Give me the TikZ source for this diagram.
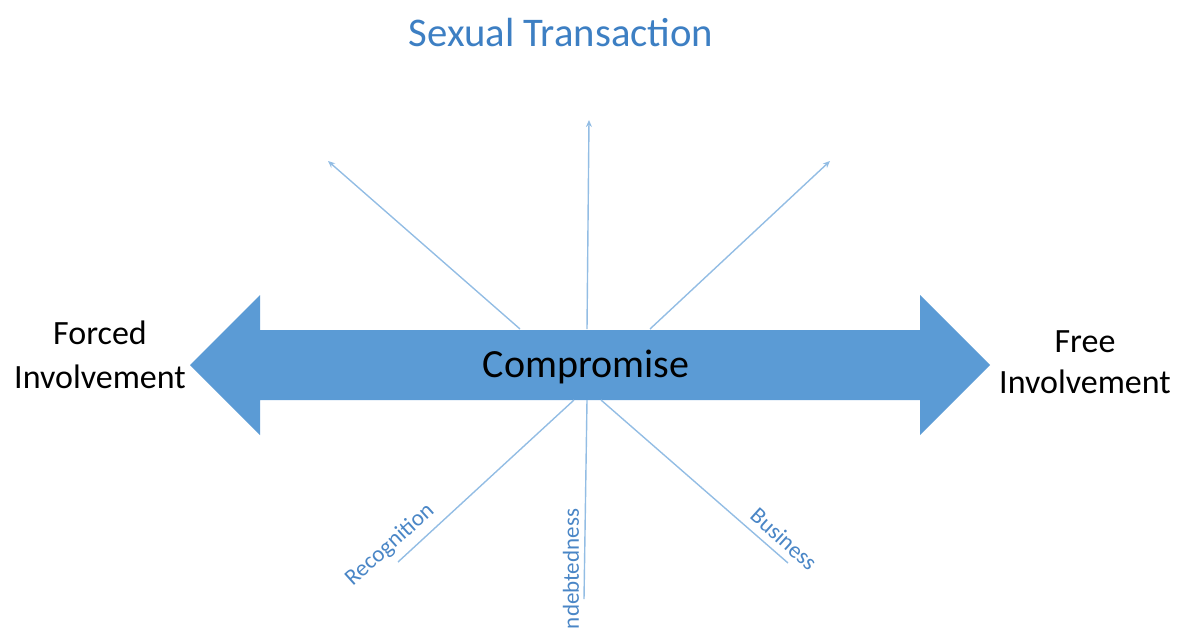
\documentclass[tikz,border=0pt]{standalone}
\usepackage{fontspec}
\setmainfont{Carlito}
\usetikzlibrary{arrows.meta}
\definecolor{bigblue}{HTML}{5B9BD5}
\definecolor{thinblue}{HTML}{93BDE4}
\definecolor{titleblue}{HTML}{3D7FC3}
\definecolor{labelblue}{HTML}{4A86C6}
\tikzset{
  ray/.style={draw=thinblue, line width=1.4pt, -{Stealth[length=7pt,width=6pt]}},
  stem/.style={draw=thinblue, line width=1.4pt},
  side/.style={align=center, font=\fontsize{34}{44}\selectfont, inner sep=0pt},
  lab/.style={text=labelblue, font=\fontsize{23}{26}\selectfont, inner sep=0pt},
}
\begin{document}
\begin{tikzpicture}[x=1pt,y=-1pt]
\useasboundingbox (0,0) rectangle (1177,630);
% big double arrow
\fill[bigblue] (190,365) -- (260,295) -- (260,330) -- (920,330) -- (920,295) -- (990,365)
  -- (920,435) -- (920,400) -- (260,400) -- (260,435) -- cycle;
% ray start points
\coordinate (u1) at (520,329);
\coordinate (u2) at (587,329);
\coordinate (u3) at (650,329);
\coordinate (t1) at (328,161);
\coordinate (t2) at (589,120);
\coordinate (t3) at (830,161);
\coordinate (d1) at (574,400);
\coordinate (d2) at (587,400);
\coordinate (d3) at (601,400);
\coordinate (e1) at (398,562);
\coordinate (e2) at (584,599);
\coordinate (e3) at (788,563);
\draw[ray] (u1) -- (t1);
\draw[ray] (u2) -- (t2);
\draw[ray] (u3) -- (t3);
\draw[stem] (d1) -- (e1);
\draw[stem] (d2) -- (e2);
\draw[stem] (d3) -- (e3);
% texts
\node[text=titleblue, font=\fontsize{40.7}{48}\selectfont, inner sep=0pt] (title) at (561,33) {Sexual Transaction};
\node[font=\fontsize{40}{48}\selectfont, inner sep=0pt] (comp) at (586,367) {Compromise};
\node[side] (forced) at (100,355) {Forced\\Involvement};
\node[side, font=\fontsize{34}{41}\selectfont] (free) at (1085,362) {Free\\Involvement};
\node[lab, rotate=42] (rec) at (390,545) {Recognition};
\node[lab, rotate=90] (ind) at (571,569) {ndebtedness};
\node[lab, rotate=-42] (bus) at (784,539) {Business};
\end{tikzpicture}
\end{document}
